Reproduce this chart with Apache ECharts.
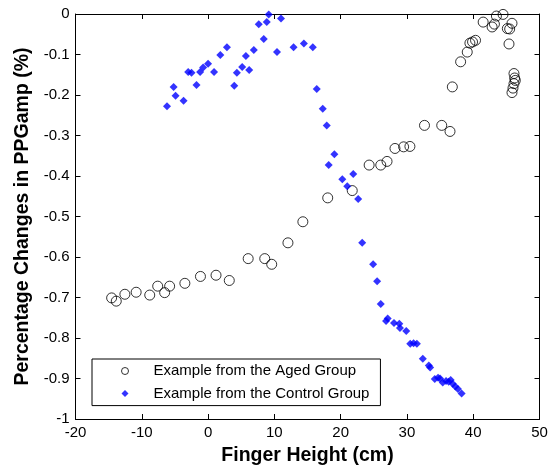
<!DOCTYPE html>
<html><head><meta charset="utf-8">
<script src="https://cdn.jsdelivr.net/npm/echarts@6/dist/echarts.min.js"></script>
<style>html,body{margin:0;padding:0;background:#fff;}#c{width:555px;height:471px;}</style>
</head><body><div id="c"></div>
<script>
const agedX = [-14.55, -13.85, -12.55, -10.85, -8.8, -7.6, -6.55, -5.8, -3.5, -1.15, 1.2, 3.2, 6.05, 8.55, 9.6, 12.05, 14.3, 18.05, 21.75, 24.3, 26.05, 27.0, 28.2, 29.5, 30.45, 32.65, 35.25, 36.5, 36.85, 38.1, 39.1, 39.5, 39.9, 40.35, 41.5, 42.85, 43.2, 43.5, 44.5, 45.15, 45.5, 45.85, 45.4, 46.15, 46.25, 46.35, 46.15, 46.0, 45.85];
const agedY = [-0.701, -0.709, -0.692, -0.687, -0.694, -0.672, -0.688, -0.672, -0.665, -0.648, -0.645, -0.658, -0.604, -0.604, -0.618, -0.565, -0.513, -0.454, -0.436, -0.373, -0.373, -0.364, -0.332, -0.328, -0.327, -0.275, -0.275, -0.290, -0.180, -0.118, -0.094, -0.072, -0.069, -0.065, -0.020, -0.032, -0.025, -0.005, -0.001, -0.036, -0.037, -0.023, -0.074, -0.147, -0.158, -0.164, -0.172, -0.183, -0.194];
const controlX = [-6.2, -5.2, -4.9, -3.7, -3.0, -2.5, -1.75, -1.2, -0.75, 0.0, 0.9, 1.85, 2.85, 3.95, 4.35, 5.15, 5.7, 6.2, 6.9, 7.65, 8.4, 8.85, 9.15, 10.4, 11.0, 12.9, 14.45, 15.8, 16.4, 17.3, 17.9, 18.2, 19.05, 20.25, 21.0, 21.9, 22.65, 23.25, 24.9, 25.5, 26.05, 26.85, 27.1, 28.05, 28.85, 28.95, 29.9, 30.5, 31.0, 31.5, 32.4, 33.3, 33.5, 34.2, 34.7, 35.0, 35.4, 35.9, 36.3, 36.6, 36.9, 37.3, 37.7, 38.25];
const controlY = [-0.228, -0.180, -0.202, -0.214, -0.143, -0.145, -0.175, -0.143, -0.132, -0.123, -0.143, -0.101, -0.082, -0.177, -0.145, -0.131, -0.104, -0.138, -0.089, -0.025, -0.062, -0.020, -0.001, -0.094, -0.011, -0.082, -0.073, -0.082, -0.185, -0.234, -0.275, -0.373, -0.346, -0.408, -0.425, -0.395, -0.457, -0.565, -0.618, -0.660, -0.716, -0.758, -0.752, -0.763, -0.765, -0.775, -0.783, -0.814, -0.813, -0.814, -0.851, -0.868, -0.873, -0.901, -0.898, -0.900, -0.910, -0.906, -0.908, -0.904, -0.913, -0.920, -0.926, -0.937];
const seriesNames = ['Example from the Aged Group', 'Example from the Control Group'];
const xTitle = 'Finger Height (cm)';
const yTitle = 'Percentage Changes in PPGamp (%)';

const FONT = 'Liberation Sans, Arial, sans-serif';
const chart = echarts.init(document.getElementById('c'), null, {renderer: 'canvas'});
const axisCommon = {
  axisLine: {show: true, onZero: false, lineStyle: {color: '#000', width: 1}},
  axisTick: {show: true, inside: true, length: 5, lineStyle: {color: '#000'}},
  splitLine: {show: false}
};
chart.setOption({
  animation: false,
  backgroundColor: '#fff',
  grid: {left: 75.5, right: 15.5, top: 14, bottom: 49},
  xAxis: [
    Object.assign({type: 'value', min: -20, max: 50, interval: 10, position: 'bottom',
      name: xTitle, nameLocation: 'middle', nameGap: 27,
      nameTextStyle: {fontFamily: FONT, fontWeight: 'bold', fontSize: 19.5, color: '#000'},
      axisLabel: {fontFamily: FONT, fontSize: 15, color: '#000', margin: 6}}, axisCommon),
    Object.assign({type: 'value', min: -20, max: 50, interval: 10, position: 'top',
      axisLabel: {show: false}}, axisCommon)
  ],
  yAxis: [
    Object.assign({type: 'value', min: -1, max: 0, interval: 0.1, position: 'left',
      name: yTitle, nameLocation: 'middle', nameGap: 34, nameRotate: 90,
      nameTextStyle: {fontFamily: FONT, fontWeight: 'bold', fontSize: 19.5, color: '#000'},
      axisLabel: {fontFamily: FONT, fontSize: 15, color: '#000', margin: 6}}, axisCommon),
    Object.assign({type: 'value', min: -1, max: 0, interval: 0.1, position: 'right',
      axisLabel: {show: false}}, axisCommon)
  ],
  legend: {
    orient: 'vertical', left: 92, top: 359,
    borderColor: '#000', borderWidth: 1, borderRadius: 0,
    padding: [3, 11, 3, 29],
    itemWidth: 7, itemHeight: 7, itemGap: 4.6,
    textStyle: {fontFamily: FONT, fontSize: 15, color: '#000', lineHeight: 18, padding: [0, 0, 0, 20]},
    data: [
      {name: seriesNames[0], itemStyle: {color: 'rgba(0,0,0,0)', borderColor: '#000', borderWidth: 1}},
      {name: seriesNames[1], itemStyle: {color: '#0000ff', borderWidth: 0}}
    ]
  },
  series: [
    {name: seriesNames[0], type: 'scatter', clip: false,
      symbol: 'circle', symbolSize: 10,
      itemStyle: {color: 'rgba(0,0,0,0)', borderColor: '#000', borderWidth: 1},
      data: agedX.map((x, i) => [x, agedY[i]])},
    {name: seriesNames[1], type: 'scatter', clip: false,
      symbol: 'diamond', symbolSize: 8,
      itemStyle: {color: '#0000ff'},
      data: controlX.map((x, i) => [x, controlY[i]])}
  ]
});
</script></body></html>
